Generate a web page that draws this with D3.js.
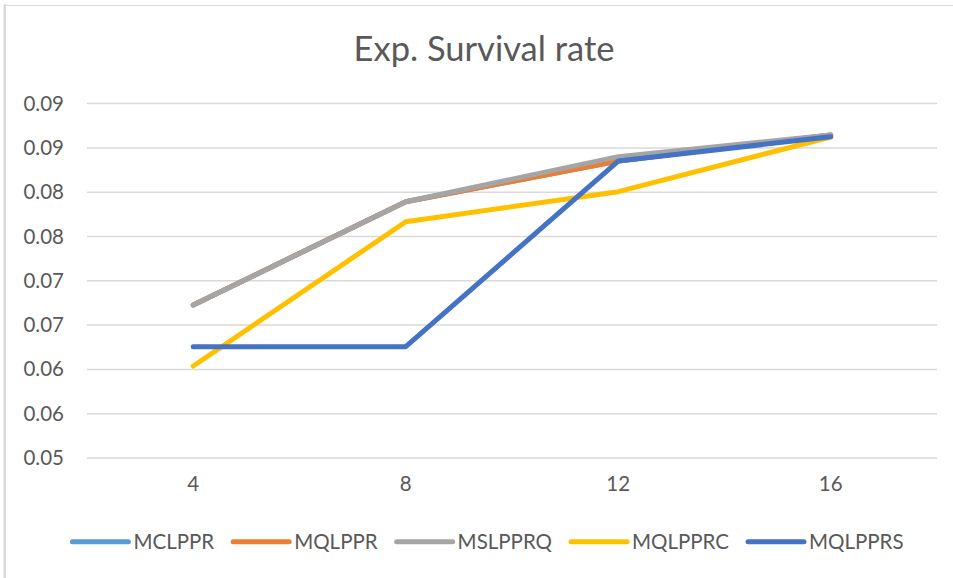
<!DOCTYPE html>
<html>
<head>
<meta charset="utf-8">
<script src="https://cdn.jsdelivr.net/npm/d3@7/dist/d3.min.js"></script>
<style>
  html, body { margin: 0; padding: 0; background: #ffffff; }
  svg { display: block; font-family: Lato, "Open Sans", sans-serif; }
</style>
</head>
<body>
<svg id="chart" width="953" height="578"></svg>
<script>
// Chart data
const title = "Exp. Survival rate";
const categories = [4, 8, 12, 16];
const yTicks = [0.05, 0.055, 0.06, 0.065, 0.07, 0.075, 0.08, 0.085, 0.09];
const yTickLabels = ["0.05", "0.06", "0.06", "0.07", "0.07", "0.08", "0.08", "0.09", "0.09"];

const seriesNames = ["MCLPPR", "MQLPPR", "MSLPPRQ", "MQLPPRC", "MQLPPRS"];
const mclppr  = [0.06727, 0.07893, 0.08352, 0.08646];
const mqlppr  = [0.06727, 0.07893, 0.08352, 0.08646];
const mslpprq = [0.06727, 0.07893, 0.08401, 0.08646];
const mqlpprc = [0.06038, 0.07667, 0.08006, 0.08623];
const mqlpprs = [0.06256, 0.06256, 0.08352, 0.08626];
const seriesColors = ["#5B9BD5", "#ED7D31", "#A5A5A5", "#FFC000", "#4472C4"];

const seriesValues = [mclppr, mqlppr, mslpprq, mqlpprc, mqlpprs];
const series = seriesNames.map((name, i) => ({
  name,
  color: seriesColors[i],
  values: seriesValues[i].map((v, j) => ({ cat: categories[j], v }))
}));

const svg = d3.select("#chart");
const textColor = "#595959";
const gridColor = "#d9d9d9";

// Chart area border
svg.append("line").attr("x1", 4.75).attr("x2", 4.75).attr("y1", 4).attr("y2", 578)
  .attr("stroke", gridColor).attr("stroke-width", 2.5);
svg.append("line").attr("x1", 4).attr("x2", 953).attr("y1", 5.5).attr("y2", 5.5)
  .attr("stroke", gridColor).attr("stroke-width", 1);

// Scales
const x = d3.scaleBand().domain(categories).range([87, 937]);
const y = d3.scaleLinear().domain([0.05, 0.09]).range([458, 103.6]);
const cx = c => x(c) + x.bandwidth() / 2;

// Title
svg.append("text")
  .attr("x", 484).attr("y", 61)
  .attr("text-anchor", "middle")
  .attr("fill", textColor)
  .style("font-size", "34.5px")
  .text(title);

// Horizontal gridlines
svg.append("g").selectAll("line").data(yTicks).join("line")
  .attr("x1", 87).attr("x2", 937)
  .attr("y1", d => y(d)).attr("y2", d => y(d))
  .attr("stroke", gridColor).attr("stroke-width", 1.5);

// Y axis labels
const yAxis = d3.axisLeft(y).tickValues(yTicks)
  .tickFormat((d, i) => yTickLabels[i]).tickSize(0).tickPadding(0);
const yg = svg.append("g").attr("transform", "translate(64,0)").call(yAxis);
yg.select(".domain").remove();
yg.selectAll("text").attr("fill", textColor).style("font-size", "20.5px")
  .style("font-family", "Lato, 'Open Sans', sans-serif");

// X axis labels
const xAxis = d3.axisBottom(x).tickSize(0).tickPadding(0);
const xg = svg.append("g").attr("transform", "translate(0,476)").call(xAxis);
xg.select(".domain").remove();
xg.selectAll("text").attr("fill", textColor).style("font-size", "20.5px")
  .style("font-family", "Lato, 'Open Sans', sans-serif");

// Series lines
const line = d3.line().x(d => cx(d.cat)).y(d => y(d.v));
svg.append("g").selectAll("path").data(series).join("path")
  .attr("d", d => line(d.values))
  .attr("fill", "none")
  .attr("stroke", d => d.color)
  .attr("stroke-width", 5)
  .attr("stroke-linejoin", "round")
  .attr("stroke-linecap", "round");

// Legend
const legend = svg.append("g");
const items = legend.selectAll("g").data(series).join("g");
items.append("line")
  .attr("x1", 0).attr("x2", 56).attr("y1", 0).attr("y2", 0)
  .attr("stroke", d => d.color).attr("stroke-width", 5)
  .attr("stroke-linecap", "round");
items.append("text")
  .attr("x", 61).attr("y", 7.5)
  .attr("fill", textColor)
  .style("font-size", "20.5px")
  .text(d => d.name);
let offset = 0;
items.each(function () {
  const g = d3.select(this);
  const w = 61 + g.select("text").node().getComputedTextLength();
  g.attr("transform", `translate(${offset},0)`);
  offset += w + 19;
});
const total = offset - 19;
legend.attr("transform", `translate(${488 - total / 2},541.7)`);
</script>
</body>
</html>
